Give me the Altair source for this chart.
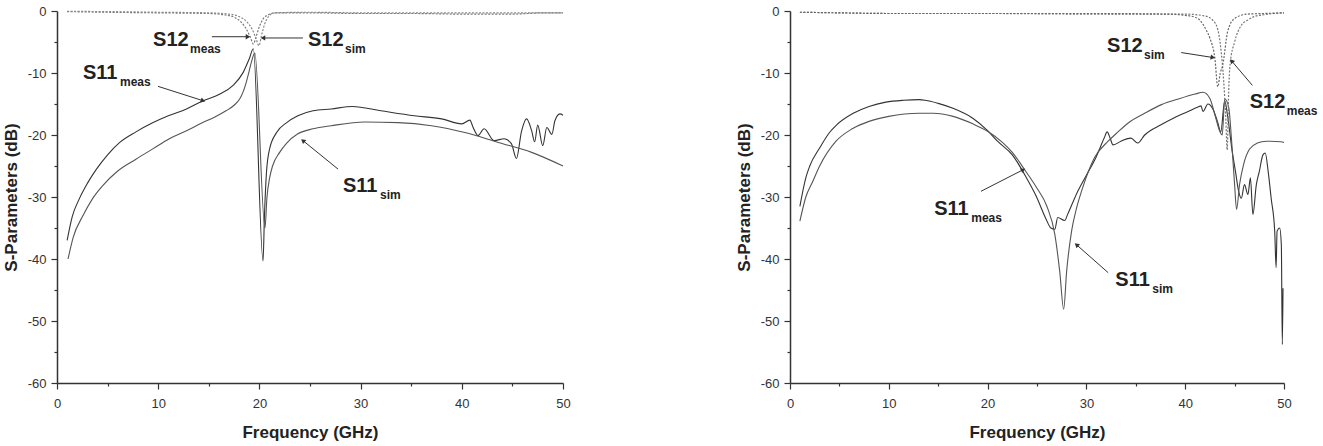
import math
import altair as alt
import pandas as pd

FONT = "Liberation Sans"

# ---------------- Left panel ----------------
L_S11_MEAS_F = [1.0, 1.5, 2.2, 3.0, 3.9, 5.0, 6.2, 7.8, 9.5, 11.0, 12.8, 14.4, 16.1, 17.4, 18.4, 19.0, 19.4,
                20.36, 20.5, 20.7, 21.0, 21.7, 22.7, 23.8, 25.3, 27.1, 29.2, 32.0, 35.3, 38.0, 40.0, 40.8, 41.1,
                41.6, 42.2, 43.2, 44.2, 44.9, 45.4, 45.9, 46.4, 46.9, 47.2, 47.5, 48.0, 48.4, 48.9, 49.2, 49.7, 50.0]
L_S11_MEAS_DB = [-37.0, -33.2, -30.3, -27.8, -25.5, -23.2, -21.2, -19.5, -18.0, -16.9, -15.8, -14.5, -13.4, -12.0,
                 -9.9, -7.7, -6.1, -40.3, -33.0, -26.0, -22.3, -19.6, -18.0, -16.9, -16.1, -15.8, -15.4, -16.1,
                 -16.9, -17.4, -18.2, -17.6, -18.7, -20.1, -19.0, -20.9, -20.6, -21.4, -23.8, -19.4, -17.4, -19.3,
                 -21.1, -18.4, -21.7, -18.8, -19.9, -17.7, -16.6, -16.8]

L_S11_SIM_F = [1.09, 1.6, 2.57, 3.5, 4.5, 6.0, 7.8, 9.5, 11.1, 12.8, 14.4, 15.6, 16.7, 17.5, 18.05, 18.4, 18.7,
               19.0, 19.2, 19.4, 19.55, 20.55, 20.75, 21.0, 21.3, 22.0, 22.7, 23.8, 25.3, 27.1, 30.4, 33.7, 37.0,
               40.3, 43.6, 46.9, 50.0]
L_S11_SIM_DB = [-40.0, -36.5, -33.0, -30.3, -28.2, -25.8, -23.9, -22.2, -20.6, -19.3, -18.0, -17.1, -16.1, -15.2,
                -14.2, -13.0, -11.5, -9.6, -8.3, -7.2, -6.8, -35.0, -30.0, -27.0, -25.0, -22.8, -21.3, -19.8,
                -19.0, -18.5, -17.9, -18.0, -18.5, -19.6, -21.2, -22.8, -25.0]

L_S12_MEAS_F = [1, 5, 10, 15, 16.5, 17.5, 18.2, 18.7, 19.1, 19.4, 19.7, 20.0, 20.4, 20.9, 21.5, 25, 30, 35, 40,
                45, 48, 50]
L_S12_MEAS_DB = [-0.1, -0.2, -0.3, -0.4, -0.6, -1.0, -1.8, -2.9, -4.2, -5.3, -4.0, -2.5, -1.2, -0.6, -0.3, -0.3,
                 -0.4, -0.4, -0.5, -0.5, -0.3, -0.3]

L_S12_SIM_F = [1, 5, 10, 15, 17, 18, 18.8, 19.3, 19.7, 19.95, 20.2, 20.5, 20.9, 21.5, 25, 30, 35, 40, 45, 50]
L_S12_SIM_DB = [-0.05, -0.1, -0.2, -0.3, -0.5, -0.9, -1.8, -3.0, -4.6, -5.6, -4.0, -2.2, -0.9, -0.3, -0.2, -0.3,
                -0.3, -0.3, -0.3, -0.3]

# labels: (freq, dB, main text, subscript)
L_LABEL_F = [9.49, 24.8, 2.57, 28.26]
L_LABEL_DB = [-5.65, -5.6, -10.97, -29.15]
L_LABEL_MAIN = ["S12", "S12", "S11", "S11"]
L_LABEL_SUB = ["meas", "sim", "meas", "sim"]

# arrows: start -> end (tip)
L_ARROW_F1 = [15.3, 24.3, 9.98, 27.77]
L_ARROW_DB1 = [-4.15, -4.35, -12.15, -25.5]
L_ARROW_F2 = [18.87, 20.35, 14.43, 24.3]
L_ARROW_DB2 = [-4.15, -4.35, -14.47, -20.9]

# ---------------- Right panel ----------------
R_S11_MEAS_F = [1.0, 1.6, 2.0, 3.0, 4.0, 4.7, 6.4, 8.0, 9.7, 11.5, 13.1, 13.7, 15.0, 16.5, 18.5, 20.0, 21.0, 22.5,
                23.9, 24.9, 25.9, 26.4, 26.8, 27.1, 27.8, 28.1, 29.0, 30.0, 31.0, 31.8, 32.1, 32.4, 32.7, 33.5,
                34.5, 35.2, 35.9, 37.6, 38.9, 40.3, 41.3, 41.6, 41.8, 42.3, 42.8, 43.3, 43.6, 44.0, 44.3, 44.7,
                45.1, 45.4, 45.68, 46.0, 46.35, 46.6, 46.85, 47.2, 47.5, 47.87, 48.1, 48.4, 48.7, 49.06, 49.2,
                49.3, 49.56, 49.73, 49.83, 49.9]
R_S11_MEAS_DB = [-31.5, -26.9, -25.0, -22.1, -19.6, -18.4, -16.5, -15.4, -14.7, -14.4, -14.3, -14.4, -14.9, -15.7,
                 -17.3, -19.3, -21.0, -23.2, -26.8, -29.8, -33.5, -35.0, -35.2, -33.3, -33.8, -32.8, -29.5, -26.5,
                 -23.5, -20.5, -19.5, -20.5, -21.6, -21.0, -20.5, -21.3, -20.0, -18.3, -17.2, -16.2, -15.5,
                 -15.3, -16.2, -15.0, -15.8, -18.0, -19.5, -14.5, -17.0, -22.0, -26.0, -29.0, -30.2, -28.0, -29.6,
                 -26.9, -32.8, -28.0, -25.9, -23.2, -22.9, -25.9, -30.2, -35.5, -41.4, -35.5, -35.0, -37.7, -53.8,
                 -44.7]

R_S11_SIM_F = [1.0, 1.6, 2.3, 3.0, 4.66, 6.3, 8.0, 10.0, 13.1, 14.5, 16.5, 18.5, 20.0, 21.5, 22.5, 23.75, 25.0,
               26.0, 26.8, 27.3, 27.7, 28.0, 28.5, 29.0, 29.5, 30.8, 32.2, 33.2, 34.2, 35.9, 37.6, 39.3, 41.0,
               41.8, 42.5, 43.0, 43.5, 43.75, 44.0, 44.4, 44.7, 45.0, 45.2, 45.5, 45.9, 46.5, 47.3, 48.2, 49.7, 50.0]
R_S11_SIM_DB = [-33.9, -30.0, -27.5, -25.0, -21.0, -19.0, -17.8, -17.0, -16.5, -16.5, -17.0, -18.2, -19.4, -21.2,
                -22.8, -25.6, -28.6, -31.5, -36.0, -42.0, -48.1, -42.0, -35.5, -31.8, -29.1, -23.7, -21.0, -19.5,
                -18.1, -16.5, -15.1, -14.2, -13.4, -13.1, -14.1, -16.7, -19.4, -20.0, -14.2, -15.5, -21.0, -28.0,
                -32.0, -28.0, -24.8, -22.3, -21.3, -21.0, -21.1, -21.2]

R_S12_SIM_F = [1, 5, 10, 20, 30, 38, 40, 41, 41.6, 42.1, 42.5, 43.0, 43.3, 43.55, 43.8, 44.3, 45.0, 46.3, 48, 50]
R_S12_SIM_DB = [-0.2, -0.3, -0.4, -0.4, -0.4, -0.5, -0.7, -1.0, -1.7, -3.0, -4.4, -7.6, -12.2, -10.0, -8.7, -3.3,
                -1.2, -0.5, -0.4, -0.3]

R_S12_MEAS_F = [1, 5, 10, 20, 30, 40, 42, 42.8, 43.3, 43.6, 43.9, 44.1, 44.25, 44.4, 44.55, 45.0, 45.7, 46.3, 47.0,
                48.0, 49.0, 50]
R_S12_MEAS_DB = [-0.2, -0.3, -0.4, -0.4, -0.5, -0.5, -0.8, -1.5, -3.0, -6.0, -11.4, -17.0, -22.4, -13.0, -8.5,
                 -5.0, -2.25, -1.5, -0.9, -0.6, -0.4, -0.3]

R_LABEL_F = [32.09, 46.53, 14.6, 32.93]
R_LABEL_DB = [-6.54, -15.67, -32.85, -44.38]
R_LABEL_MAIN = ["S12", "S12", "S11", "S11"]
R_LABEL_SUB = ["sim", "meas", "meas", "sim"]

R_ARROW_F1 = [39.6, 46.8, 19.33, 32.2]
R_ARROW_DB1 = [-6.7, -12.0, -29.08, -42.2]
R_ARROW_F2 = [42.8, 44.7, 23.6, 29.0]
R_ARROW_DB2 = [-7.5, -8.05, -25.6, -37.7]

X_TICKS = list(range(0, 51, 5))
Y_TICKS = list(range(0, -61, -5))

PLOT_H = 372


def lines_df(series):
    rows = []
    for name, kind, col, fs, ds in series:
        for i, (f, d) in enumerate(zip(fs, ds)):
            rows.append(dict(series=name, kind=kind, col=col, f=f, db=d, i=i))
    return pd.DataFrame(rows)


def panel(series, lab, arr, width):
    pxf = width / 50.0
    pxdb = PLOT_H / 60.0
    ldf = lines_df(series)
    x = alt.X("f:Q", scale=alt.Scale(domain=[0, 50], nice=False, zero=False),
              title="Frequency (GHz)",
              axis=alt.Axis(values=X_TICKS, labelExpr="datum.value % 10 === 0 ? datum.label : ''",
                            tickSize=alt.ExprRef(expr="datum.value % 10 === 0 ? 6 : 3"),
                            labelPadding=8, titlePadding=14, labelFlush=False, labelOverlap=False))
    y = alt.Y("db:Q", scale=alt.Scale(domain=[-60, 0], nice=False, zero=False),
              title="S-Parameters (dB)",
              axis=alt.Axis(values=Y_TICKS,
                            labelExpr="datum.value % 10 === 0 ? toString(datum.value) : ''",
                            tickSize=alt.ExprRef(expr="datum.value % 10 === 0 ? 6 : 3"),
                            labelPadding=5, titlePadding=7, labelFlush=False, labelOverlap=False))

    s11 = alt.Chart(ldf[ldf.kind == "S11"]).mark_line(strokeWidth=1.1, interpolate="monotone").encode(
        x=x, y=y, detail="series:N", order="i:Q", color=alt.Color("col:N", scale=None))
    s12 = alt.Chart(ldf[ldf.kind == "S12"]).mark_line(strokeWidth=1.2, strokeDash=[2, 1.5],
                                                      interpolate="monotone").encode(
        x=x, y=y, detail="series:N", order="i:Q", color=alt.Color("col:N", scale=None))

    labdf = pd.DataFrame(dict(f=lab[0], db=lab[1], main=lab[2], sub=lab[3]))
    main_t = alt.Chart(labdf).mark_text(align="left", baseline="alphabetic", font=FONT, fontSize=20,
                                         fontWeight="bold", color="#222").encode(x=x, y=y, text="main:N")
    sub_t = alt.Chart(labdf).mark_text(align="left", baseline="alphabetic", font=FONT, fontSize=12,
                                        fontWeight="bold", color="#222", dx=37, dy=7).encode(
        x=x, y=y, text="sub:N")

    adf = pd.DataFrame(dict(f=arr[0], db=arr[1], f2=arr[2], db2=arr[3]))
    rules = alt.Chart(adf).mark_rule(color="#333", strokeWidth=1).encode(
        x=x, y=y, x2=alt.X2("f2:Q"), y2=alt.Y2("db2:Q"))
    heads = pd.DataFrame(dict(
        f=arr[2], db=arr[3],
        ang=[math.degrees(math.atan2(-(d2 - d1) * pxdb, (f2 - f1) * pxf)) % 360
             for f1, d1, f2, d2 in zip(arr[0], arr[1], arr[2], arr[3])]))
    heads_c = alt.Chart(heads).mark_point(shape="triangle-right", filled=True, size=28, color="#333",
                                          opacity=1).encode(
        x=x, y=y, angle=alt.Angle("ang:Q", scale=None))

    return alt.layer(s11, s12, rules, heads_c, main_t, sub_t).properties(width=width, height=PLOT_H)


left = panel(
    [("s11m", "S11", "#333333", L_S11_MEAS_F, L_S11_MEAS_DB),
     ("s11s", "S11", "#555555", L_S11_SIM_F, L_S11_SIM_DB),
     ("s12m", "S12", "#777777", L_S12_MEAS_F, L_S12_MEAS_DB),
     ("s12s", "S12", "#888888", L_S12_SIM_F, L_S12_SIM_DB)],
    (L_LABEL_F, L_LABEL_DB, L_LABEL_MAIN, L_LABEL_SUB),
    (L_ARROW_F1, L_ARROW_DB1, L_ARROW_F2, L_ARROW_DB2),
    506)

right = panel(
    [("s11m", "S11", "#333333", R_S11_MEAS_F, R_S11_MEAS_DB),
     ("s11s", "S11", "#555555", R_S11_SIM_F, R_S11_SIM_DB),
     ("s12m", "S12", "#777777", R_S12_MEAS_F, R_S12_MEAS_DB),
     ("s12s", "S12", "#666666", R_S12_SIM_F, R_S12_SIM_DB)],
    (R_LABEL_F, R_LABEL_DB, R_LABEL_MAIN, R_LABEL_SUB),
    (R_ARROW_F1, R_ARROW_DB1, R_ARROW_F2, R_ARROW_DB2),
    494)

chart = alt.hconcat(left, right, spacing=164).properties(
    padding={"left": 2, "top": 5, "right": 2, "bottom": 2}
).configure_view(stroke=None).configure_axis(
    domainColor="#333", domainWidth=1.5, tickColor="#333", tickWidth=1.2,
    labelFont=FONT, labelFontSize=13, labelColor="#333",
    titleFont=FONT, titleFontSize=17, titleFontWeight="bold", titleColor="#222", grid=False)

chart.save("out.html", embed_options={"renderer": "svg", "actions": False})
